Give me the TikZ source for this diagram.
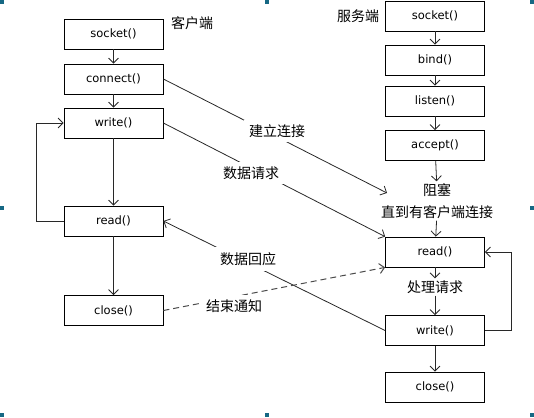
\documentclass[tikz,border=0pt]{standalone}
\usepackage{fontspec}
\setmainfont{DejaVu Sans}
\newfontfamily\cjk{Noto Sans CJK SC}
\usetikzlibrary{arrows.meta}
\definecolor{handle}{RGB}{22,104,132}
\definecolor{linec}{RGB}{40,40,40}
\definecolor{dashc}{RGB}{75,75,75}
\begin{document}
\begin{tikzpicture}[x=1pt,y=-1pt,
  box/.style={draw=black,line width=0.8pt,minimum width=99pt,minimum height=30pt,inner sep=0pt,font=\fontsize{11.5}{13}\selectfont},
  cn/.style={font=\cjk\fontsize{14}{16}\selectfont,inner sep=2pt},
  lab/.style={cn,fill=white,inner sep=5pt},
  arr/.style={draw=linec,line width=0.8pt,-{Straight Barb[length=5pt,width=10pt]}},
  dsh/.style={arr,draw=dashc,line width=1pt,dash pattern=on 6pt off 4pt},
  hd/.style={fill=handle}]
\useasboundingbox (0,0) rectangle (534,417);
% client boxes
\node[box] (csock) at (113.5,34) {socket()};
\node[box] (cconn) at (113.5,79) {connect()};
\node[box] (cwrite) at (113.5,123) {write()};
\node[box] (cread) at (113.5,221) {read()};
\node[box] (cclose) at (113.5,310.5) {close()};
% server boxes
\node[box] (ssock) at (435,16) {socket()};
\node[box] (sbind) at (435,60) {bind()};
\node[box] (slisten) at (435,101) {listen()};
\node[box] (saccept) at (435,145.5) {accept()};
\node[box] (sread) at (435,252) {read()};
\node[box] (swrite) at (435,330.5) {write()};
\node[box] (sclose) at (435,387) {close()};
% texts
\node[cn] (cl) at (192,23) {客户端};
\node[cn] (sv) at (358,16) {服务端};
\node[cn] (block) at (437,190) {阻塞};
\node[cn] (until) at (437,212) {直到有客户端连接};
\node[cn] (proc) at (435,287) {处理请求};
% vertical arrows
\draw[arr] (csock) -- (cconn);
\draw[arr] (cconn) -- (cwrite);
\draw[arr] (cwrite) -- (cread);
\draw[arr] (cread) -- (cclose);
\draw[arr] (ssock) -- (sbind);
\draw[arr] (sbind) -- (slisten);
\draw[arr] (slisten) -- (saccept);
\draw[arr] (saccept) -- (block);
\draw[arr] (until) -- (sread);
\draw[arr] (sread) -- (proc);
\draw[arr] (proc) -- (swrite);
\draw[arr] (swrite) -- (sclose);
% loops
\draw[arr] (swrite.east) -- ++(26,0) |- (sread.east);
\draw[arr] (cread.west) -- ++(-27,0) |- (cwrite.west);
% diagonals
\coordinate (ctgt) at (387,193);
\draw[arr] (cconn.east) -- (ctgt);
\draw[arr] (cwrite.east) -- (sread.north west);
\draw[arr] (swrite.west) -- (cread.east);
\draw[dsh] (cclose.east) -- (sread.south west);
% labels
\node[lab] (lconn) at (277,131) {建立连接};
\node[lab] (lreq) at (251,173) {数据请求};
\node[lab] (lresp) at (248,259) {数据回应};
\node[lab] (lend) at (234,306) {结束通知};
% selection handles
\fill[hd] (0,0) rectangle (4,4);
\fill[hd] (265,0) rectangle (269,4);
\fill[hd] (530,0) rectangle (534,4);
\fill[hd] (0,205.5) rectangle (4,209.5);
\fill[hd] (530,205.5) rectangle (534,209.5);
\fill[hd] (0,413) rectangle (4,417);
\fill[hd] (265,413) rectangle (269,417);
\fill[hd] (530,413) rectangle (534,417);
\end{tikzpicture}
\end{document}
